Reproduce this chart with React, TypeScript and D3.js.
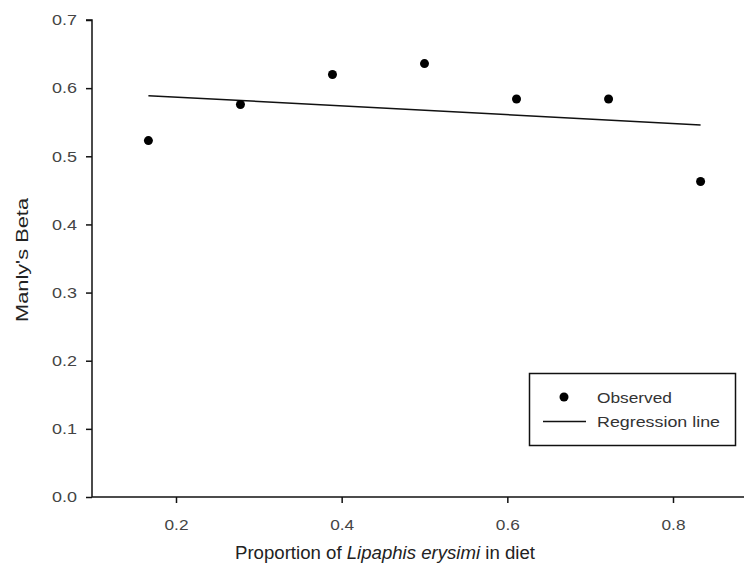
import React, { useEffect, useRef } from 'react';
import * as d3 from 'd3';

// Observed points (proportion of L. erysimi in diet vs Manly's beta)
const proportions = [0.1667, 0.2778, 0.3889, 0.5, 0.6111, 0.7222, 0.8333];
const betaValues = [0.523, 0.576, 0.62, 0.636, 0.584, 0.584, 0.463];
// Regression line end points
const regX = [0.1667, 0.8333];
const regY = [0.589, 0.546];
const xTicks = [0.2, 0.4, 0.6, 0.8];
const yTicks = [0, 0.1, 0.2, 0.3, 0.4, 0.5, 0.6, 0.7];

const W = 744;
const H = 563;

const App: React.FC = () => {
  const svgRef = useRef<SVGSVGElement>(null);

  useEffect(() => {
    if (!svgRef.current) return;
    const svg = d3.select(svgRef.current);
    svg.selectAll('*').remove();

    const left = 92;
    const top = 20;
    const bottom = 497;

    const x = d3.scaleLinear().domain([0.2, 0.8]).range([176, 673]);
    const y = d3.scaleLinear().domain([0, 0.7]).range([bottom, top]);
    const font = 'Arial, "Liberation Sans", sans-serif';

    // Y axis
    const yAxis = svg.append('g')
      .attr('transform', `translate(${left},0)`)
      .call(d3.axisLeft(y).tickValues(yTicks).tickFormat(d3.format('.1f')).tickSize(6).tickPadding(9));
    yAxis.select('.domain').attr('d', `M-6,${top}H0V${bottom}`).attr('stroke', '#111').attr('stroke-width', 1.5);
    yAxis.selectAll('.tick line').attr('stroke', '#111').attr('stroke-width', 1.5);
    yAxis.selectAll('.tick text')
      .attr('font-family', font)
      .attr('font-size', 15)
      .attr('textLength', 25)
      .attr('lengthAdjust', 'spacingAndGlyphs')
      .attr('fill', '#444');

    // X axis
    const xAxis = svg.append('g')
      .attr('transform', `translate(0,${bottom})`)
      .call(d3.axisBottom(x).tickValues(xTicks).tickFormat(d3.format('.1f')).tickSize(6).tickPadding(16));
    xAxis.select('.domain').attr('d', `M${left},0H${W}`).attr('stroke', '#111').attr('stroke-width', 1.5);
    xAxis.selectAll('.tick line').attr('stroke', '#111').attr('stroke-width', 1.5);
    xAxis.selectAll('.tick text')
      .attr('font-family', font)
      .attr('font-size', 15)
      .attr('textLength', 24)
      .attr('lengthAdjust', 'spacingAndGlyphs')
      .attr('fill', '#444');

    // Regression line
    const line = d3.line<number>()
      .x((_d, i) => x(regX[i]))
      .y(d => y(d));
    svg.append('path')
      .datum(regY)
      .attr('d', line)
      .attr('fill', 'none')
      .attr('stroke', '#111')
      .attr('stroke-width', 1.5);

    // Observed points
    svg.selectAll('.pt')
      .data(betaValues)
      .enter()
      .append('circle')
      .attr('class', 'pt')
      .attr('cx', (_d, i) => x(proportions[i]))
      .attr('cy', d => y(d))
      .attr('r', 4.5)
      .attr('fill', '#000');

    // Axis titles
    svg.append('text')
      .attr('transform', `translate(28,260) rotate(-90)`)
      .attr('text-anchor', 'middle')
      .attr('font-family', font)
      .attr('font-size', 17)
      .attr('textLength', 124)
      .attr('lengthAdjust', 'spacingAndGlyphs')
      .attr('fill', '#222')
      .text("Manly's Beta");

    const xt = svg.append('text')
      .attr('x', 235)
      .attr('y', 559)
      .attr('font-family', font)
      .attr('font-size', 18)
      .attr('textLength', 300)
      .attr('lengthAdjust', 'spacingAndGlyphs')
      .attr('fill', '#222');
    xt.append('tspan').text('Proportion of ');
    xt.append('tspan').attr('font-style', 'italic').text('Lipaphis erysimi');
    xt.append('tspan').text(' in diet');

    // Legend
    const lg = svg.append('g');
    lg.append('rect')
      .attr('x', 529.5).attr('y', 373.5)
      .attr('width', 206).attr('height', 72)
      .attr('fill', '#fff')
      .attr('stroke', '#111')
      .attr('stroke-width', 1.5);
    lg.append('circle').attr('cx', 564).attr('cy', 397).attr('r', 4.5).attr('fill', '#000');
    lg.append('line')
      .attr('x1', 543).attr('x2', 586)
      .attr('y1', 421.5).attr('y2', 421.5)
      .attr('stroke', '#111').attr('stroke-width', 1.5);
    lg.append('text').attr('x', 597).attr('y', 403)
      .attr('font-family', font).attr('font-size', 15).attr('fill', '#333')
      .attr('textLength', 75).attr('lengthAdjust', 'spacingAndGlyphs')
      .text('Observed');
    lg.append('text').attr('x', 597).attr('y', 427)
      .attr('font-family', font).attr('font-size', 15).attr('fill', '#333')
      .attr('textLength', 123).attr('lengthAdjust', 'spacingAndGlyphs')
      .text('Regression line');
  }, []);

  return (
    <svg
      ref={svgRef}
      width={W}
      height={H}
      style={{ position: 'absolute', left: 0, top: 0, display: 'block', background: '#fff' }}
    />
  );
};

export default App;
